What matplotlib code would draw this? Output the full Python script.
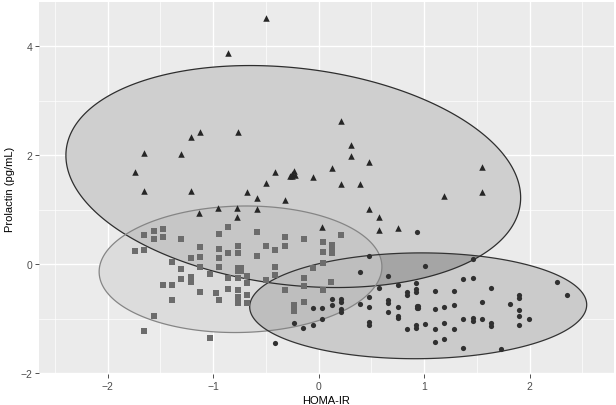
import numpy as np
import matplotlib
matplotlib.use("Agg")
import matplotlib.pyplot as plt
from matplotlib.patches import Polygon

plt.rcParams["font.family"] = ["Liberation Sans", "DejaVu Sans"]

# --- data ---
tri_x = [-0.50, -0.854, -1.12, -1.21, -0.766, -1.656, -1.30, -1.744, -1.656, -1.21,
         -0.678, -0.41, -0.50, -0.27, -0.25, -0.23, -0.25, -0.22, -0.054, 0.124,
         0.211, 0.303, 0.303, 0.48, 0.211, 0.39, 1.55, 1.55, 1.19, -0.587,
         -0.32, -1.13, -0.95, -0.774, -0.587, -0.774, 0.03, 0.478, 0.572, 0.572,
         0.75]
tri_y = [4.51, 3.88, 2.42, 2.34, 2.43, 2.04, 2.02, 1.70, 1.35, 1.34,
         1.33, 1.69, 1.49, 1.62, 1.66, 1.71, 1.62, 1.63, 1.61, 1.77,
         2.62, 2.18, 1.98, 1.88, 1.48, 1.48, 1.79, 1.33, 1.25, 1.21,
         1.18, 0.95, 1.03, 1.03, 1.02, 0.87, 0.69, 1.02, 0.86, 0.63,
         0.67]

sq_x = [-1.656, -1.564, -1.564, -1.476, -1.476, -1.30, -1.744, -1.656, -1.388, -1.30,
        -1.30, -1.21, -1.21, -1.21, -1.476, -1.388, -1.388, -1.564, -1.656, -1.12,
        -1.12, -1.12, -0.854, -0.943, -0.587, -0.32, -0.142, -0.943, -0.763, -0.763,
        -0.854, -0.50, -0.41, -0.32, -0.587, -0.943, -0.943, -0.765, -0.735, -0.765,
        -0.735, -0.41, -0.41, -1.12, -1.03, -0.854, -0.763, -0.675, -0.675, -0.50,
        -0.977, -0.854, -0.763, -0.763, -0.943, -0.763, -0.675, -0.675, -0.32, -0.234,
        -0.234, -0.142, -0.142, -0.142, -0.054, -1.03, 0.037, 0.037, 0.13, 0.13,
        0.13, 0.213, 0.037, 0.12, 0.037]
sq_y = [0.54, 0.62, 0.46, 0.64, 0.51, 0.47, 0.24, 0.26, 0.04, -0.08,
        -0.26, -0.23, -0.32, 0.11, -0.385, -0.385, -0.66, -0.95, -1.23, 0.32,
        0.14, -0.50, 0.69, 0.56, 0.59, 0.51, 0.47, 0.29, 0.33, 0.21,
        0.21, 0.33, 0.26, 0.33, 0.15, 0.11, -0.04, -0.06, -0.06, -0.12,
        -0.12, -0.04, -0.19, -0.05, -0.17, -0.25, -0.25, -0.21, -0.35, -0.28,
        -0.53, -0.45, -0.47, -0.59, -0.66, -0.70, -0.70, -0.57, -0.47, -0.74,
        -0.85, -0.69, -0.25, -0.40, -0.06, -1.35, 0.41, 0.22, 0.36, 0.28,
        0.20, 0.53, 0.03, -0.32, -0.47]

ci_x = [0.935, 0.482, 1.012, 1.46, 0.388, 0.656, 0.75, 0.568, 0.84, 0.84,
        0.924, 0.924, 0.924, 1.10, 1.28, 1.372, 1.46, 1.637, 2.26, 2.35,
        0.123, 0.211, 0.211, 0.482, 0.656, 0.656, 0.123, -0.054, 0.035, 0.211,
        0.211, 0.388, 0.482, 0.656, 0.75, 0.75, 0.75, 0.035, -0.236, -0.054,
        -0.148, 0.482, 0.482, 0.84, -0.41, 0.93, 0.945, 0.93, 0.945, 1.10,
        1.19, 1.28, 1.55, 1.816, 1.90, 1.90, 1.90, 1.90, 1.99, 1.90,
        1.372, 1.46, 1.46, 1.55, 1.637, 1.637, 0.924, 0.924, 1.012, 1.10,
        1.19, 1.28, 1.19, 1.10, 1.372, 1.725]
ci_y = [0.59, 0.15, -0.03, 0.09, -0.14, -0.21, -0.37, -0.44, -0.50, -0.57,
        -0.34, -0.46, -0.51, -0.49, -0.48, -0.27, -0.25, -0.43, -0.32, -0.57,
        -0.63, -0.64, -0.69, -0.59, -0.65, -0.70, -0.74, -0.80, -0.80, -0.81,
        -0.88, -0.73, -0.78, -0.87, -0.78, -0.95, -0.99, -1.00, -1.08, -1.11,
        -1.17, -1.06, -1.11, -1.19, -1.44, -0.76, -0.76, -0.80, -0.80, -0.81,
        -0.78, -0.75, -0.69, -0.73, -0.56, -0.62, -0.83, -0.95, -1.01, -1.11,
        -1.01, -0.99, -1.04, -1.01, -1.08, -1.13, -1.12, -1.16, -1.10, -1.18,
        -1.08, -1.18, -1.36, -1.43, -1.53, -1.55]

# ellipse summaries: centre, half extents in x / y, correlation
ell_cx = [-0.24, -0.74, 0.944]
ell_cy = [1.61, -0.09, -0.76]
ell_sx = [2.155, 1.34, 1.597]
ell_sy = [2.035, 1.16, 0.97]
ell_rho = [-0.19, 0.04, 0.02]

x_ticks = [-2, -1, 0, 1, 2]
y_ticks = [-2, 0, 2, 4]


def ellipse_xy(i):
    t = np.linspace(0, 2 * np.pi, 300)
    r = ell_rho[i]
    x = ell_cx[i] + ell_sx[i] * np.cos(t)
    y = ell_cy[i] + ell_sy[i] * (r * np.cos(t) + np.sqrt(1 - r * r) * np.sin(t))
    return np.column_stack([x, y])


fig, ax = plt.subplots(figsize=(6.16, 4.06), dpi=100)
fig.subplots_adjust(left=0.0633, right=0.9968, top=0.9926, bottom=0.0764)
ax.set_facecolor("#EBEBEB")
ax.set_xlim(-2.65, 2.80)
ax.set_ylim(-2.01, 4.81)

# fills
fills = ["#CFCFCF", "#DCDCDC", "#CBCBCB"]
edges = ["#2E2E2E", "#858585", "#333333"]
shapes = []
for i in range(3):
    p = Polygon(ellipse_xy(i), closed=True, facecolor=fills[i], edgecolor="none",
                transform=ax.transData, zorder=1)
    ax.add_patch(p)
    shapes.append(p)

# overlaps
for a, b, col in [(1, 0, "#C6C6C6"), (2, 0, "#A5A5A5"), (2, 1, "#BEBEBE")]:
    p = Polygon(ellipse_xy(a), closed=True, facecolor=col, edgecolor="none",
                transform=ax.transData, zorder=1.5)
    ax.add_patch(p)
    p.set_clip_path(shapes[b])

for i in range(3):
    ax.add_patch(Polygon(ellipse_xy(i), closed=True, fill=False, edgecolor=edges[i],
                         linewidth=0.9, zorder=2))

ax.scatter(sq_x, sq_y, marker="s", s=14, color="#6C6C6C", linewidths=0, zorder=3)
ax.scatter(ci_x, ci_y, marker="o", s=14, color="#303030", linewidths=0, zorder=3)
ax.scatter(tri_x, tri_y, marker="^", s=22, color="#262626", linewidths=0, zorder=3)

# ggplot-like axes
ax.set_xticks(x_ticks)
ax.set_yticks(y_ticks)
ax.set_xticks([-2.5, -1.5, -0.5, 0.5, 1.5, 2.5], minor=True)
ax.set_yticks([-1, 1, 3], minor=True)
ax.grid(which="major", color="white", linewidth=1.0)
ax.grid(which="minor", color="white", linewidth=0.5)
ax.set_axisbelow(True)
for s in ax.spines.values():
    s.set_visible(False)
ax.tick_params(which="major", length=2.75, width=0.6, color="#333333",
               labelsize=7.5, labelcolor="#4D4D4D", pad=2)
ax.tick_params(which="minor", length=0)
ax.set_xlabel("HOMA-IR", fontsize=8, labelpad=3)
ax.set_ylabel("Prolactin (pg/mL)", fontsize=8, labelpad=4)

fig.savefig("out.png", dpi=100)
